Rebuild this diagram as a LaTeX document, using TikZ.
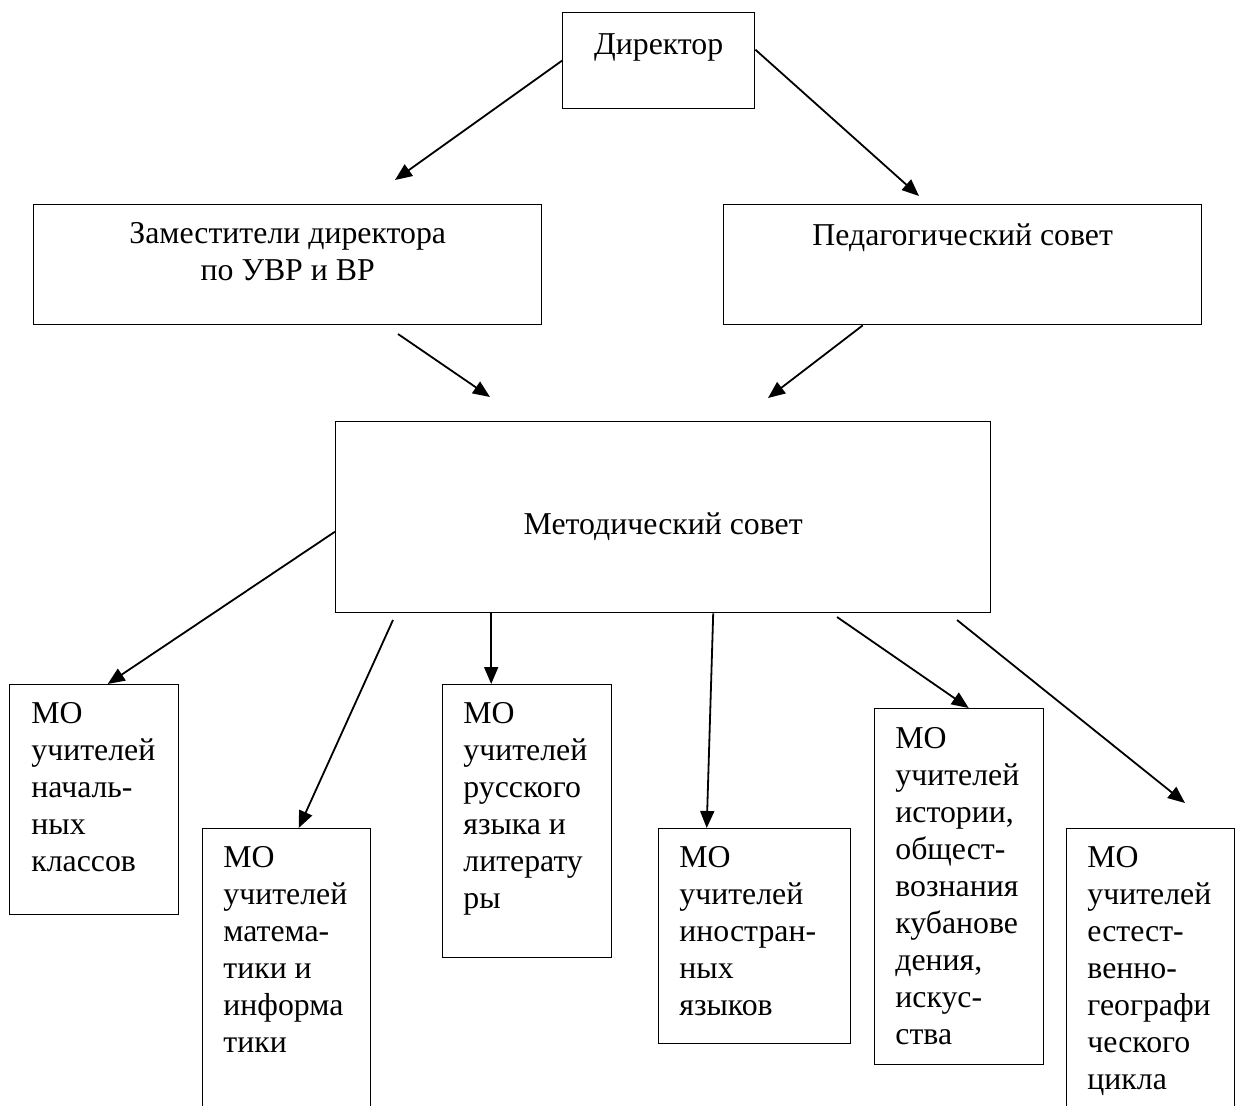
\documentclass[tikz,border=0pt]{standalone}
\usepackage{fontspec}
\setmainfont{Liberation Serif}
\usetikzlibrary{arrows.meta,positioning}

\begin{document}
\begin{tikzpicture}[
            x=0.5pt, y=-0.5pt,
            every node/.style={font=\fontsize{15.9}{18.5}\selectfont},
            box/.style={draw, line width=0.7pt, rectangle, anchor=north west, inner sep=0pt},
            lbl/.style={anchor=base, inner sep=0pt},
            motext/.style={anchor=base west, inner sep=0pt},
            link/.style={-{Triangle[length=8.5pt,width=7pt]}, line width=0.9pt}
  ]
  \useasboundingbox (0,0) rectangle (1236,1106);
  \clip (0,0) rectangle (1236,1106);

  % top levels
  \node[box, minimum width=96pt, minimum height=48pt] (dir) at (562,12) {};
  \node[lbl] (tdir) at ([yshift=-21.5pt]dir.north) {Директор};

  \node[box, minimum width=254pt, minimum height=60pt] (zam) at (33,204) {};
  \node[lbl] (tzam) at ([yshift=-20pt]zam.north) {\parbox[t]{240pt}{\centering Заместители директора\\по УВР и ВР}};

  \node[box, minimum width=239pt, minimum height=60pt] (ped) at (723,204) {};
  \node[lbl] (tped) at ([yshift=-21pt]ped.north) {Педагогический совет};

  \node[box, minimum width=327.5pt, minimum height=95.5pt] (met) at (335,421) {};
  \node[lbl] (tmet) at ([yshift=-57pt]met.north) {Методический совет};

  % MO boxes
  \node[box, minimum width=84.5pt, minimum height=115pt] (b1) at (9,684) {};
  \node[motext] (t1) at ([shift={(22,39)}]b1.north west) {\parbox[t]{80pt}{МО\\учителей\\началь-\\ных\\классов}};

  \node[box, minimum width=84pt, minimum height=150pt] (b2) at (202,828) {};
  \node[motext] (t2) at ([shift={(21,39)}]b2.north west) {\parbox[t]{80pt}{МО\\учителей\\матема-\\тики и\\информа\\тики}};

  \node[box, minimum width=84.5pt, minimum height=136.5pt] (b3) at (442,684) {};
  \node[motext] (t3) at ([shift={(21,39)}]b3.north west) {\parbox[t]{80pt}{МО\\учителей\\русского\\языка и\\литерату\\ры}};

  \node[box, minimum width=96pt, minimum height=107.5pt] (b4) at (658,828) {};
  \node[motext] (t4) at ([shift={(21,39)}]b4.north west) {\parbox[t]{85pt}{МО\\учителей\\иностран-\\ных\\языков}};

  \node[box, minimum width=84.5pt, minimum height=178pt] (b5) at (874,708) {};
  \node[motext] (t5) at ([shift={(21,40)}]b5.north west) {\parbox[t]{80pt}{МО\\учителей\\истории,\\общест-\\вознания\\кубанове\\дения,\\искус-\\ства}};

  \node[box, minimum width=84pt, minimum height=150pt] (b6) at (1066,828) {};
  \node[motext] (t6) at ([shift={(21,39)}]b6.north west) {\parbox[t]{80pt}{МО\\учителей\\естест-\\венно-\\географи\\ческого\\цикла}};

  % free arrow ends
  \coordinate (zamin) at (395,180);
  \coordinate (pedin) at (919,196);
  \coordinate (zamout) at (398,334);
  \coordinate (metin) at (490,397);
  \coordinate (metin2) at (768,398);
  \coordinate (m2) at (393,620);
  \coordinate (b3in) at ([xshift=-18pt]b3.north);
  \coordinate (m5) at (837,617);
  \coordinate (m6) at (957,620);
  \coordinate (b6in) at (1185,803);

  \draw[link] (dir.west) -- (zamin);
  \draw[link] ([yshift=5.5pt]dir.east) -- (pedin);
  \draw[link] (zamout) -- (metin);
  \draw[link] ([xshift=-50pt]ped.south) -- (metin2);
  \draw[link] ([yshift=-7.25pt]met.west) -- ([xshift=6.75pt]b1.north);
  \draw[link] (m2) -- ([xshift=6pt]b2.north);
  \draw[link] (met.south -| b3in) -- (b3in);
  \draw[link] ([xshift=25pt]met.south) -- ([xshift=-24pt]b4.north);
  \draw[link] (m5) -- ([xshift=4.75pt]b5.north);
  \draw[link] (m6) -- (b6in);

\end{tikzpicture}
\end{document}
